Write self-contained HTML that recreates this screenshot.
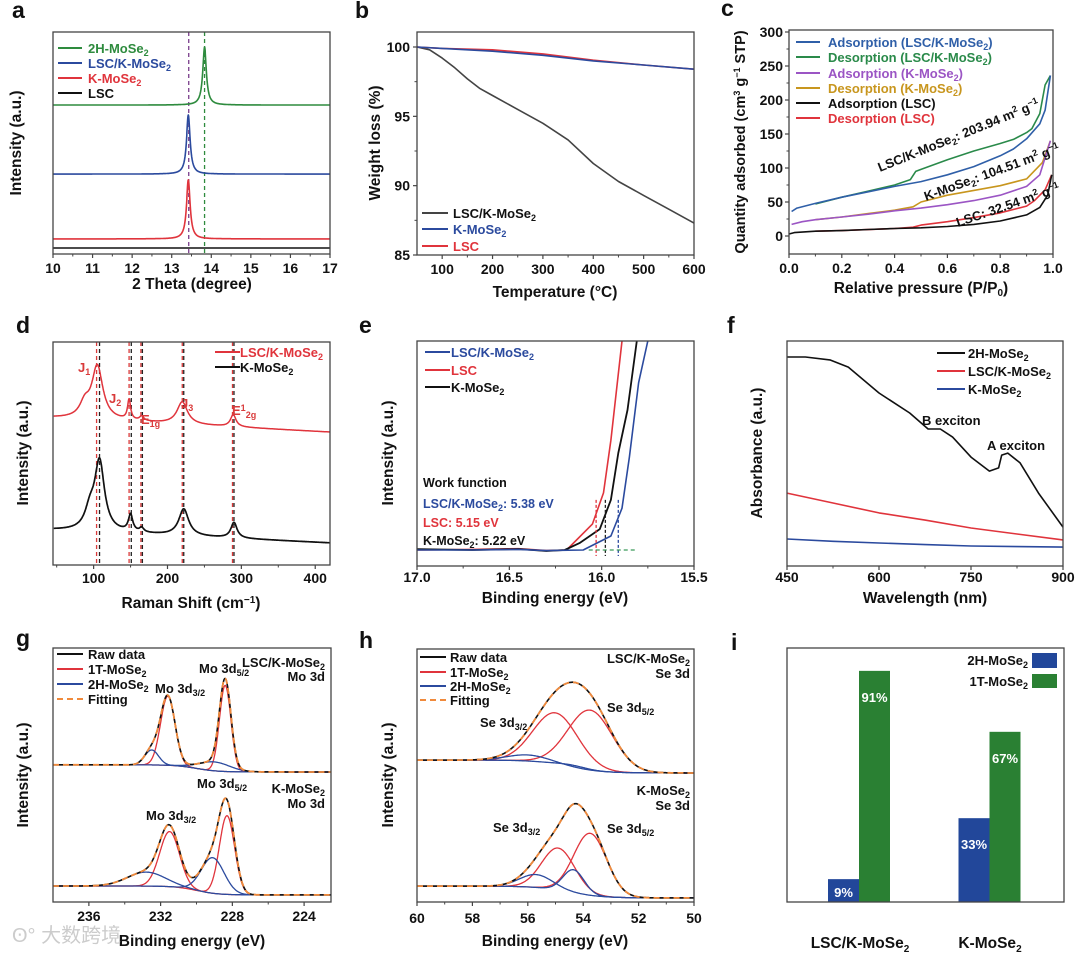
<!DOCTYPE html>
<html><head><meta charset="utf-8"><style>
html,body{margin:0;padding:0;background:#fff;}
svg{display:block;font-family:"Liberation Sans","Noto Sans CJK SC",sans-serif;font-weight:bold;}
</style></head><body>
<svg id="fig" width="1080" height="953" viewBox="0 0 1080 953">
<defs><clipPath id="clipE"><rect x="417" y="341" width="277" height="225"/></clipPath></defs>
<g id="plots"></g>
<g font-size="23" fill="#111">
<text x="12" y="18">a</text>
<text x="355" y="18">b</text>
<text x="721" y="16">c</text>
<text x="16" y="333">d</text>
<text x="359" y="333">e</text>
<text x="727" y="333">f</text>
<text x="16" y="646">g</text>
<text x="359" y="648">h</text>
<text x="731" y="650">i</text>
</g>
<g font-size="15.5" fill="#111" text-anchor="middle">
<text x="192" y="289">2 Theta (degree)</text>
<text transform="translate(21,143) rotate(-90)">Intensity (a.u.)</text>
<text x="555" y="297">Temperature (°C)</text>
<text transform="translate(380,143) rotate(-90)">Weight loss (%)</text>
<text x="921" y="293">Relative pressure (P/P<tspan font-size="10" dy="3">0</tspan><tspan dy="-3">)</tspan></text>
<text transform="translate(745,142) rotate(-90)" font-size="14.5">Quantity adsorbed (cm<tspan font-size="9" dy="-5">3</tspan><tspan dy="5"> g</tspan><tspan font-size="9" dy="-5">−1</tspan><tspan dy="5"> STP)</tspan></text>
<text x="191" y="608">Raman Shift (cm<tspan font-size="10" dy="-5">−1</tspan><tspan dy="5">)</tspan></text>
<text transform="translate(28,453) rotate(-90)">Intensity (a.u.)</text>
<text x="555" y="603">Binding energy (eV)</text>
<text transform="translate(393,453) rotate(-90)">Intensity (a.u.)</text>
<text x="925" y="603">Wavelength (nm)</text>
<text transform="translate(762,453) rotate(-90)">Absorbance (a.u.)</text>
<text x="192" y="946">Binding energy (eV)</text>
<text transform="translate(28,775) rotate(-90)">Intensity (a.u.)</text>
<text x="555" y="946">Binding energy (eV)</text>
<text transform="translate(393,775) rotate(-90)">Intensity (a.u.)</text>
<text x="860" y="948">LSC/K-MoSe<tspan font-size="10" dy="4">2</tspan></text>
<text x="990" y="948">K-MoSe<tspan font-size="10" dy="4">2</tspan></text>
</g>
<text x="12" y="942" font-size="20" fill="#ccc" font-weight="normal">ʘ° 大数跨境</text>

<g font-size="13">
<line x1="58" y1="48" x2="82" y2="48" stroke="#2e8b3e" stroke-width="2"/><text x="88" y="53" fill="#2e8b3e">2H-MoSe<tspan font-size="9" dy="3">2</tspan></text>
<line x1="58" y1="63" x2="82" y2="63" stroke="#2b4a9e" stroke-width="2"/><text x="88" y="68" fill="#2b4a9e">LSC/K-MoSe<tspan font-size="9" dy="3">2</tspan></text>
<line x1="58" y1="78" x2="82" y2="78" stroke="#e0343c" stroke-width="2"/><text x="88" y="83" fill="#e0343c">K-MoSe<tspan font-size="9" dy="3">2</tspan></text>
<line x1="58" y1="93" x2="82" y2="93" stroke="#111" stroke-width="2"/><text x="88" y="98" fill="#111">LSC</text>
</g>
<g font-size="13">
<line x1="422" y1="213" x2="448" y2="213" stroke="#444" stroke-width="2"/><text x="453" y="218" fill="#111">LSC/K-MoSe<tspan font-size="9" dy="3">2</tspan></text>
<line x1="422" y1="229" x2="448" y2="229" stroke="#2b4a9e" stroke-width="2"/><text x="453" y="234" fill="#2b4a9e">K-MoSe<tspan font-size="9" dy="3">2</tspan></text>
<line x1="422" y1="246" x2="448" y2="246" stroke="#e0343c" stroke-width="2"/><text x="453" y="251" fill="#e0343c">LSC</text>
</g>
<g font-size="13">
<line x1="796" y1="42" x2="820" y2="42" stroke="#2f5fa8" stroke-width="2"/><text x="828" y="47" fill="#2f5fa8">Adsorption (LSC/K-MoSe<tspan font-size="9" dy="3">2</tspan><tspan dy="-3">)</tspan></text>
<line x1="796" y1="57" x2="820" y2="57" stroke="#2a8a4a" stroke-width="2"/><text x="828" y="62" fill="#2a8a4a">Desorption (LSC/K-MoSe<tspan font-size="9" dy="3">2</tspan><tspan dy="-3">)</tspan></text>
<line x1="796" y1="73" x2="820" y2="73" stroke="#9b55c4" stroke-width="2"/><text x="828" y="78" fill="#9b55c4">Adsorption (K-MoSe<tspan font-size="9" dy="3">2</tspan><tspan dy="-3">)</tspan></text>
<line x1="796" y1="88" x2="820" y2="88" stroke="#c8961e" stroke-width="2"/><text x="828" y="93" fill="#c8961e">Desorption (K-MoSe<tspan font-size="9" dy="3">2</tspan><tspan dy="-3">)</tspan></text>
<line x1="796" y1="103" x2="820" y2="103" stroke="#111" stroke-width="2"/><text x="828" y="108" fill="#111">Adsorption (LSC)</text>
<line x1="796" y1="118" x2="820" y2="118" stroke="#e0343c" stroke-width="2"/><text x="828" y="123" fill="#e0343c">Desorption (LSC)</text>
</g>
<g font-size="13" fill="#111">
<text x="880" y="172" transform="rotate(-22 880 172)">LSC/K-MoSe<tspan font-size="9" dy="3">2</tspan><tspan dy="-3">: 203.94 m</tspan><tspan font-size="9" dy="-5">2</tspan><tspan dy="5"> g</tspan><tspan font-size="9" dy="-5">−1</tspan></text>
<text x="926" y="201" transform="rotate(-20 926 201)">K-MoSe<tspan font-size="9" dy="3">2</tspan><tspan dy="-3">: 104.51 m</tspan><tspan font-size="9" dy="-5">2</tspan><tspan dy="5"> g</tspan><tspan font-size="9" dy="-5">−1</tspan></text>
<text x="958" y="227" transform="rotate(-19 958 227)">LSC: 32.54 m<tspan font-size="9" dy="-5">2</tspan><tspan dy="5"> g</tspan><tspan font-size="9" dy="-5">−1</tspan></text>
</g>
<g font-size="13">
<line x1="215" y1="352" x2="240" y2="352" stroke="#e0343c" stroke-width="2"/><text x="240" y="357" fill="#e0343c">LSC/K-MoSe<tspan font-size="9" dy="3">2</tspan></text>
<line x1="215" y1="367" x2="240" y2="367" stroke="#111" stroke-width="2"/><text x="240" y="372" fill="#111">K-MoSe<tspan font-size="9" dy="3">2</tspan></text>
</g>
<g font-size="13" fill="#d93a3a">
<text x="78" y="372">J<tspan font-size="9" dy="3">1</tspan></text>
<text x="109" y="403">J<tspan font-size="9" dy="3">2</tspan></text>
<text x="141" y="424">E<tspan font-size="9" dy="3">1g</tspan></text>
<text x="181" y="408">J<tspan font-size="9" dy="3">3</tspan></text>
<text x="232" y="415">E<tspan font-size="9" dy="-4">1</tspan><tspan font-size="9" dy="7">2g</tspan></text>
</g>
<g font-size="13">
<line x1="425" y1="352" x2="450" y2="352" stroke="#2b4a9e" stroke-width="2"/><text x="451" y="357" fill="#2b4a9e">LSC/K-MoSe<tspan font-size="9" dy="3">2</tspan></text>
<line x1="425" y1="370" x2="450" y2="370" stroke="#e0343c" stroke-width="2"/><text x="451" y="375" fill="#e0343c">LSC</text>
<line x1="425" y1="387" x2="450" y2="387" stroke="#111" stroke-width="2"/><text x="451" y="392" fill="#111">K-MoSe<tspan font-size="9" dy="3">2</tspan></text>
</g>
<g font-size="12.5">
<text x="423" y="487" fill="#111">Work function</text>
<text x="423" y="508" fill="#2b4a9e">LSC/K-MoSe<tspan font-size="9" dy="3">2</tspan><tspan dy="-3">: 5.38 eV</tspan></text>
<text x="423" y="527" fill="#e0343c">LSC: 5.15 eV</text>
<text x="423" y="545" fill="#111">K-MoSe<tspan font-size="9" dy="3">2</tspan><tspan dy="-3">: 5.22 eV</tspan></text>
</g>
<g font-size="13">
<line x1="937" y1="353" x2="965" y2="353" stroke="#111" stroke-width="2"/><text x="968" y="358" fill="#111">2H-MoSe<tspan font-size="9" dy="3">2</tspan></text>
<line x1="937" y1="371" x2="965" y2="371" stroke="#e0343c" stroke-width="2"/><text x="968" y="376" fill="#111">LSC/K-MoSe<tspan font-size="9" dy="3">2</tspan></text>
<line x1="937" y1="389" x2="965" y2="389" stroke="#2b4a9e" stroke-width="2"/><text x="968" y="394" fill="#111">K-MoSe<tspan font-size="9" dy="3">2</tspan></text>
</g>
<text x="922" y="425" font-size="13" fill="#111">B exciton</text>
<text x="987" y="450" font-size="13" fill="#111">A exciton</text>
<g font-size="13" fill="#111">
<line x1="57" y1="654" x2="83" y2="654" stroke="#111" stroke-width="2"/><text x="88" y="659">Raw data</text>
<line x1="57" y1="669" x2="83" y2="669" stroke="#e0343c" stroke-width="2"/><text x="88" y="674">1T-MoSe<tspan font-size="9" dy="3">2</tspan></text>
<line x1="57" y1="684" x2="83" y2="684" stroke="#2b4a9e" stroke-width="2"/><text x="88" y="689">2H-MoSe<tspan font-size="9" dy="3">2</tspan></text>
<line x1="57" y1="699" x2="83" y2="699" stroke="#f08a3c" stroke-width="2" stroke-dasharray="6,4"/><text x="88" y="704">Fitting</text>
</g>
<g font-size="13" fill="#111">
<text x="325" y="667" text-anchor="end">LSC/K-MoSe<tspan font-size="9" dy="3">2</tspan></text>
<text x="325" y="681" text-anchor="end">Mo 3d</text>
<text x="199" y="673">Mo 3d<tspan font-size="9" dy="3">5/2</tspan></text>
<text x="155" y="693">Mo 3d<tspan font-size="9" dy="3">3/2</tspan></text>
<text x="325" y="793" text-anchor="end">K-MoSe<tspan font-size="9" dy="3">2</tspan></text>
<text x="325" y="808" text-anchor="end">Mo 3d</text>
<text x="197" y="788">Mo 3d<tspan font-size="9" dy="3">5/2</tspan></text>
<text x="146" y="820">Mo 3d<tspan font-size="9" dy="3">3/2</tspan></text>
</g>
<g font-size="13" fill="#111">
<line x1="420" y1="657" x2="446" y2="657" stroke="#111" stroke-width="2"/><text x="450" y="662">Raw data</text>
<line x1="420" y1="672" x2="446" y2="672" stroke="#e0343c" stroke-width="2"/><text x="450" y="677">1T-MoSe<tspan font-size="9" dy="3">2</tspan></text>
<line x1="420" y1="686" x2="446" y2="686" stroke="#2b4a9e" stroke-width="2"/><text x="450" y="691">2H-MoSe<tspan font-size="9" dy="3">2</tspan></text>
<line x1="420" y1="700" x2="446" y2="700" stroke="#f08a3c" stroke-width="2" stroke-dasharray="6,4"/><text x="450" y="705">Fitting</text>
</g>
<g font-size="13" fill="#111">
<text x="690" y="663" text-anchor="end">LSC/K-MoSe<tspan font-size="9" dy="3">2</tspan></text>
<text x="690" y="678" text-anchor="end">Se 3d</text>
<text x="480" y="727">Se 3d<tspan font-size="9" dy="3">3/2</tspan></text>
<text x="607" y="712">Se 3d<tspan font-size="9" dy="3">5/2</tspan></text>
<text x="690" y="795" text-anchor="end">K-MoSe<tspan font-size="9" dy="3">2</tspan></text>
<text x="690" y="810" text-anchor="end">Se 3d</text>
<text x="493" y="832">Se 3d<tspan font-size="9" dy="3">3/2</tspan></text>
<text x="607" y="833">Se 3d<tspan font-size="9" dy="3">5/2</tspan></text>
</g>
<g font-size="13" fill="#111">
<rect x="1032" y="653" width="25" height="15" fill="#22479a"/><text x="1028" y="665" text-anchor="end">2H-MoSe<tspan font-size="9" dy="3">2</tspan></text>
<rect x="1032" y="674" width="25" height="14" fill="#2a8033"/><text x="1028" y="686" text-anchor="end">1T-MoSe<tspan font-size="9" dy="3">2</tspan></text>
</g>
</svg>
<script>
// ---------- data ----------
const aSeries=['2H-MoSe2','LSC/K-MoSe2','K-MoSe2','LSC'];
const aBaselines=[67.1,36,6.8,2.7];
const aPeakPos=[13.83,13.42,13.42,13.42];
const aPeakHeights=[26.1,26.6,26.6,0];
const aXTicks=[10,11,12,13,14,15,16,17];
const aXLabels=['10','11','12','13','14','15','16','17'];
const bTemp=[50,75,100,125,150,175,200,250,300,350,400,450,500,550,600];
const bLSCK=[100,99.8,99.2,98.5,97.7,97.0,96.5,95.5,94.5,93.3,91.6,90.3,89.3,88.3,87.3];
const bTempK=[50,100,200,300,400,500,600];
const bK=[100,99.9,99.7,99.4,99.0,98.7,98.4];
const bLSC=[100,99.9,99.8,99.5,99.05,98.7,98.4];
const bXTicks=[100,200,300,400,500,600];
const bYTicks=[85,90,95,100];
const cAdsP1=[0.01,0.03,0.1,0.2,0.3,0.4,0.5,0.6,0.7,0.8,0.85,0.9,0.95,0.97,0.99];
const cAdsQ1=[36,41,48,57,65,73,80,90,102,118,128,143,165,185,236];
const cDesP1=[0.99,0.97,0.95,0.92,0.9,0.85,0.8,0.7,0.6,0.5,0.48,0.46,0.4,0.3,0.2,0.1];
const cDesQ1=[236,222,180,158,152,142,136,125,112,98,95,83,75,66,57,47];
const cAdsP2=[0.01,0.05,0.1,0.2,0.3,0.4,0.5,0.6,0.7,0.8,0.9,0.95,0.99];
const cAdsQ2=[17,21,24,28,32,37,41,46,52,60,73,90,140];
const cDesP2=[0.99,0.96,0.9,0.8,0.7,0.6,0.5,0.47,0.4,0.3,0.2,0.1];
const cDesQ2=[140,108,84,74,67,60,50,43,38,33,28,24];
const cAdsP3=[0.0,0.02,0.1,0.2,0.3,0.4,0.5,0.6,0.7,0.8,0.9,0.95,0.98,0.995];
const cAdsQ3=[3,5,7,8,9.5,11,12,14,17,22,31,42,60,90];
const cDesP3=[0.995,0.97,0.93,0.9,0.8,0.7,0.6,0.5,0.47,0.4,0.2,0.1];
const cDesQ3=[90,68,52,44,34,27,21,16,13,11,8,7];
const cXTicks=[0,0.2,0.4,0.6,0.8,1.0];
const cYTicks=[0,50,100,150,200,250,300];
const dRedPeaks=[105,148,165,220,289,88];
const dRedHeights=[23.8,9,2,10,5.4,6];
const dRedWidths=[18,5,7,17,9,16];
const dRedBase=[66,59.6];
const dBlackPeaks=[108,150,165,222,290,95];
const dBlackHeights=[31,7.6,2,12,7,8];
const dBlackWidths=[16,7,7,16,10,16];
const dBlackBase=[15.7,9.9];
const dRedLines=[104,148,164,220,288];
const dBlackLines=[108,151,166,222,290];
const dXTicks=[100,200,300,400];
const eRedBE=[17,16.7,16.45,16.3,16.19,16.05,15.99,15.95,15.89];
const eRed=[0,0.3,0.6,-0.3,0,12.4,27.3,52.6,100];
const eBlackBE=[17,16.7,16.45,16.3,16.2,16.12,16.01,15.95,15.91,15.86,15.81];
const eBlack=[0.4,0,0.5,-0.5,0,3.3,10,24,46.4,67,100];
const eBlueBE=[17,16.7,16.45,16.3,16.1,15.95,15.89,15.85,15.8,15.75];
const eBlue=[0,0,0.3,-0.3,0,6.7,20,44.5,80,100];
const eOnsets=[16.03,15.98,15.91];
const eXTicks=[17.0,16.5,16.0,15.5];
const eXLabels=['17.0','16.5','16.0','15.5'];
const fWl=[450,480,520,550,600,650,680,700,720,750,780,795,800,810,830,860,900];
const f2H=[0.929,0.929,0.916,0.884,0.769,0.680,0.609,0.609,0.573,0.484,0.422,0.436,0.493,0.502,0.458,0.324,0.173];
const fWl2=[450,525,600,675,750,825,900];
const fLSCK=[0.324,0.28,0.236,0.204,0.169,0.142,0.116];
const fK=[0.12,0.11,0.102,0.095,0.089,0.086,0.084];
const fXTicks=[450,600,750,900];
const gTopCenters=[231.6,228.4,232.5,229.0];
const gTopHeights=[27.2,33.9,5.9,3.5];
const gTopWidths=[0.95,0.75,0.9,2.0];
const gTopBase=[54,51.2];
const gBotCenters=[231.5,228.3,229.1,232.8];
const gBotHeights=[21.7,31,14,5.5];
const gBotWidths=[1.3,1.0,1.5,2.5];
const gBotBase=[6.3,2.8];
const gKinds=['1T','1T','2H','2H'];
const gXTicks=[236,232,228,224];
const hTopCenters=[55.0,53.75,56.0,54.4];
const hTopHeights=[20.2,23.7,2.4,0.8];
const hTopWidths=[1.9,1.9,1.8,1.2];
const hTopBase=[56.1,51];
const hBotCenters=[54.9,53.75,55.7,54.35];
const hBotHeights=[16.6,24.5,5.1,9.1];
const hBotWidths=[1.4,1.4,1.4,0.9];
const hBotBase=[6.3,1.6];
const hKinds=['1T','1T','2H','2H'];
const hXTicks=[60,58,56,54,52,50];
const iCats=['LSC/K-MoSe2','K-MoSe2'];
const i2H=[9,33];
const i1T=[91,67];

// ---------- helpers ----------
const NS='http://www.w3.org/2000/svg';
const root=document.getElementById('plots');
function mk(tag,parent){const e=document.createElementNS(NS,tag);parent.appendChild(e);return e;}
function lin(d0,d1,r0,r1){return v=>r0+(v-d0)*(r1-r0)/(d1-d0);}
function grid(a,b,n){const o=[];for(let i=0;i<=n;i++)o.push(a+(b-a)*i/n);return o;}
const gauss=(x,c,h,w)=>h*Math.exp(-2.7726*((x-c)/w)**2);
const lor=(x,c,h,w)=>h/(1+4*((x-c)/w)**2);
function path(xs,ys,sx,sy,color,w,dash,name,clip){
  const e=mk('path',root);
  let d='';
  for(let i=0;i<xs.length;i++){d+=(i?'L':'M')+sx(xs[i]).toFixed(1)+','+sy(ys[i]).toFixed(1);}
  e.setAttribute('d',d);e.setAttribute('fill','none');e.setAttribute('stroke',color);
  e.setAttribute('stroke-width',w);e.setAttribute('stroke-linejoin','round');
  if(dash)e.setAttribute('stroke-dasharray',dash);
  if(clip)e.setAttribute('clip-path',clip);
  
  
  return e;
}
function frame(x0,y0,x1,y1,name){
  const r=mk('rect',root);
  r.setAttribute('x',x0);r.setAttribute('y',y0);r.setAttribute('width',x1-x0);r.setAttribute('height',y1-y0);
  r.setAttribute('fill','none');r.setAttribute('stroke','#444');r.setAttribute('stroke-width','1.3');
  
  
}
function xTicks(sx,majors,labels,minors,yb,ly,name){
  majors.forEach((v,i)=>{
    const t=mk('line',root);
    t.setAttribute('x1',sx(v));t.setAttribute('x2',sx(v));t.setAttribute('y1',yb);t.setAttribute('y2',yb+4);t.setAttribute('stroke','#444');t.setAttribute('stroke-width','1.2');
    
    
    const tx=mk('text',root);
    tx.setAttribute('x',sx(v));tx.setAttribute('y',ly);tx.setAttribute('text-anchor','middle');tx.setAttribute('font-size','14');tx.setAttribute('fill','#111');
    tx.textContent=labels[i];
    
    
  });
  minors.forEach(v=>{
    const t=mk('line',root);
    t.setAttribute('x1',sx(v));t.setAttribute('x2',sx(v));t.setAttribute('y1',yb);t.setAttribute('y2',yb+2.5);t.setAttribute('stroke','#444');t.setAttribute('stroke-width','1');
    
    
  });
}
function yTicks(sy,majors,labels,minors,xl,lx,name){
  majors.forEach((v,i)=>{
    const t=mk('line',root);
    t.setAttribute('x1',xl-4);t.setAttribute('x2',xl);t.setAttribute('y1',sy(v));t.setAttribute('y2',sy(v));t.setAttribute('stroke','#444');t.setAttribute('stroke-width','1.2');
    
    
    const tx=mk('text',root);
    tx.setAttribute('x',lx);tx.setAttribute('y',sy(v)+5);tx.setAttribute('text-anchor','end');tx.setAttribute('font-size','14');tx.setAttribute('fill','#111');
    tx.textContent=labels[i];
    
    
  });
  minors.forEach(v=>{
    const t=mk('line',root);
    t.setAttribute('x1',xl-2.5);t.setAttribute('x2',xl);t.setAttribute('y1',sy(v));t.setAttribute('y2',sy(v));t.setAttribute('stroke','#444');t.setAttribute('stroke-width','1');
    
    
  });
}
function vline(x,y0,y1,color,dash,name){
  const t=mk('line',root);
  t.setAttribute('x1',x);t.setAttribute('x2',x);t.setAttribute('y1',y0);t.setAttribute('y2',y1);
  t.setAttribute('stroke',color);t.setAttribute('stroke-width','1.3');t.setAttribute('stroke-dasharray',dash);
  
  
}

// ---------- panel a ----------
{
  const sx=lin(10,17,53,330), sy=lin(0,100,254,32);
  const cols=['#2e8b3e','#2b4a9e','#e0343c','#111'];
  vline(sx(13.43),32,254,'#7a3d8c','4,3','a-ref-line-k');
  vline(sx(13.83),32,254,'#2e8b3e','4,3','a-ref-line-2h');
  const xs=grid(10,17,1400);
  aSeries.forEach((s,k)=>{
    const ys=xs.map(x=>aBaselines[k]+lor(x,aPeakPos[k],aPeakHeights[k],0.11));
    path(xs,ys,sx,sy,cols[k],1.6,null,'a-trace-'+s.toLowerCase().replace(/[^a-z0-9]+/g,'-'));
  });
  frame(53,32,330,254,'a-plot-frame');
  xTicks(sx,aXTicks,aXLabels,grid(10.5,16.5,6),254,273,'a');
}
// ---------- panel b ----------
{
  const sx=lin(50,600,417,694), sy=lin(85,100,255,47);
  path(bTemp,bLSCK,sx,sy,'#444',1.6,null,'b-curve-lsc-k-mose2');
  path(bTempK,bLSC,sx,sy,'#e0343c',1.6,null,'b-curve-lsc');
  path(bTempK,bK,sx,sy,'#2b4a9e',1.6,null,'b-curve-k-mose2');
  frame(417,32,694,255,'b-plot-frame');
  xTicks(sx,bXTicks,bXTicks.map(String),[150,250,350,450,550],255,274,'b');
  yTicks(sy,bYTicks,bYTicks.map(String),[87.5,92.5,97.5],417,410,'b');
}
// ---------- panel c ----------
{
  const sx=lin(0,1,789,1053), sy=lin(0,300,236,32);
  path(cDesP3,cDesQ3,sx,sy,'#e0343c',1.6,null,'c-desorption-lsc');
  path(cAdsP3,cAdsQ3,sx,sy,'#111',1.6,null,'c-adsorption-lsc');
  path(cDesP2,cDesQ2,sx,sy,'#c8961e',1.6,null,'c-desorption-k-mose2');
  path(cAdsP2,cAdsQ2,sx,sy,'#9b55c4',1.6,null,'c-adsorption-k-mose2');
  path(cDesP1,cDesQ1,sx,sy,'#2a8a4a',1.6,null,'c-desorption-lsc-k-mose2');
  path(cAdsP1,cAdsQ1,sx,sy,'#2f5fa8',1.6,null,'c-adsorption-lsc-k-mose2');
  frame(789,30,1053,254,'c-plot-frame');
  xTicks(sx,cXTicks,cXTicks.map(v=>v.toFixed(1)),[0.1,0.3,0.5,0.7,0.9],254,273,'c');
  yTicks(sy,cYTicks,cYTicks.map(String),[25,75,125,175,225,275],789,783,'c');
}
// ---------- panel d ----------
{
  const sx=lin(45,420,53,330), sy=lin(0,100,565,342);
  dRedLines.forEach((v,i)=>vline(sx(v),342,565,'#d93a3a','4,3','d-ref-line-red'));
  dBlackLines.forEach((v,i)=>vline(sx(v),342,565,'#222','4,3','d-ref-line-black'));
  const xs=grid(46,420,748);
  const red=xs.map(x=>{let y=dRedBase[0]+(dRedBase[1]-dRedBase[0])*(x-46)/374;dRedPeaks.forEach((c,k)=>y+=lor(x,c,dRedHeights[k],dRedWidths[k]));return y;});
  const blk=xs.map(x=>{let y=dBlackBase[0]+(dBlackBase[1]-dBlackBase[0])*(x-46)/374;dBlackPeaks.forEach((c,k)=>y+=lor(x,c,dBlackHeights[k],dBlackWidths[k]));return y;});
  path(xs,red,sx,sy,'#e0343c',1.5,null,'d-trace-lsc-k-mose2');
  path(xs,blk,sx,sy,'#111',1.7,null,'d-trace-k-mose2');
  frame(53,342,330,565,'d-plot-frame');
  xTicks(sx,dXTicks,dXTicks.map(String),[50,150,250,350],565,583,'d');
}
// ---------- panel e ----------
{
  const sx=lin(17,15.5,417,694), sy=lin(0,100,550,341);
  path(eRedBE,eRed,sx,sy,'#e0343c',1.6,null,'e-curve-lsc','url(#clipE)');
  path(eBlackBE,eBlack,sx,sy,'#111',1.8,null,'e-curve-k-mose2','url(#clipE)');
  path(eBlueBE,eBlue,sx,sy,'#2b4a9e',1.6,null,'e-curve-lsc-k-mose2','url(#clipE)');
  const oc=['#e0343c','#222','#2b4a9e'];
  eOnsets.forEach((v,i)=>vline(sx(v),sy(24),556,oc[i],'3,2','e-onset-line'));
  const h=mk('line',root);
  h.setAttribute('x1',sx(16.07));h.setAttribute('x2',sx(15.81));h.setAttribute('y1',sy(0));h.setAttribute('y2',sy(0));
  h.setAttribute('stroke','#3a9a5a');h.setAttribute('stroke-width','1.2');h.setAttribute('stroke-dasharray','4,3');
  
  
  frame(417,341,694,566,'e-plot-frame');
  xTicks(sx,eXTicks,eXLabels,[16.75,16.25,15.75],566,582,'e');
}
// ---------- panel f ----------
{
  const sx=lin(450,900,787,1063), sy=lin(0,1,566,341);
  path(fWl,f2H,sx,sy,'#111',1.6,null,'f-curve-2h-mose2');
  path(fWl2,fLSCK,sx,sy,'#e0343c',1.6,null,'f-curve-lsc-k-mose2');
  path(fWl2,fK,sx,sy,'#2b4a9e',1.6,null,'f-curve-k-mose2');
  frame(787,341,1063,566,'f-plot-frame');
  xTicks(sx,fXTicks,fXTicks.map(String),[525,675,825],566,582,'f');
}
// ---------- XPS helper ----------
function xps(sx,sy,lo,hi,centers,heights,widths,base,kinds,bgC,name){
  const xs=grid(lo,hi,500);
  const bg=x=>base[1]+(base[0]-base[1])/(1+Math.exp(-(x-bgC)/0.6));
  centers.forEach((c,k)=>{
    const ys=xs.map(x=>bg(x)+gauss(x,c,heights[k],widths[k]));
    path(xs,ys,sx,sy,kinds[k]==='1T'?'#e0343c':'#2b4a9e',1.3,null,name+'-component-'+kinds[k].toLowerCase());
  });
  const fit=xs.map(x=>{let y=bg(x);centers.forEach((c,k)=>y+=gauss(x,c,heights[k],widths[k]));return y;});
  path(xs,fit,sx,sy,'#111',1.6,null,name+'-raw-data');
  path(xs,fit,sx,sy,'#f08a3c',1.8,'6,4',name+'-fitting');
}
// ---------- panel g ----------
{
  const sx=lin(238,222.5,53,331), sy=lin(0,100,902,648);
  xps(sx,sy,238,222.5,gBotCenters,gBotHeights,gBotWidths,gBotBase,gKinds,230,'g-k-mose2');
  xps(sx,sy,238,222.5,gTopCenters,gTopHeights,gTopWidths,gTopBase,gKinds,230,'g-lsc-k-mose2');
  frame(53,648,331,902,'g-plot-frame');
  xTicks(sx,gXTicks,gXTicks.map(String),[234,230,226],902,921,'g');
}
// ---------- panel h ----------
{
  const sx=lin(60,50,417,694), sy=lin(0,100,902,649);
  xps(sx,sy,60,50,hBotCenters,hBotHeights,hBotWidths,hBotBase,hKinds,54.5,'h-k-mose2');
  xps(sx,sy,60,50,hTopCenters,hTopHeights,hTopWidths,hTopBase,hKinds,54.5,'h-lsc-k-mose2');
  frame(417,649,694,902,'h-plot-frame');
  xTicks(sx,hXTicks,hXTicks.map(String),[59,57,55,53,51],902,923,'h');
}
// ---------- panel i ----------
{
  const sy=lin(0,100,902,648);
  const centers=[859,989.5];
  const bw=31;
  iCats.forEach((c,k)=>{
    const vals=[i2H[k],i1T[k]], cols=['#22479a','#2a8033'], nm=['2h','1t'];
    vals.forEach((v,j)=>{
      const x=centers[k]+(j===0?-bw:0);
      const r=mk('rect',root);
      r.setAttribute('x',x);r.setAttribute('y',sy(v));r.setAttribute('width',bw);r.setAttribute('height',902-sy(v));r.setAttribute('fill',cols[j]);
      
      
      const t=mk('text',root);
      t.setAttribute('x',x+bw/2);t.setAttribute('y',Math.min(sy(v)+31,897));t.setAttribute('text-anchor','middle');t.setAttribute('font-size','13');t.setAttribute('fill','#fff');
      t.textContent=v+'%';
      
      
    });
  });
  frame(787,648,1064,902,'i-plot-frame');
}
</script>
</body></html>
